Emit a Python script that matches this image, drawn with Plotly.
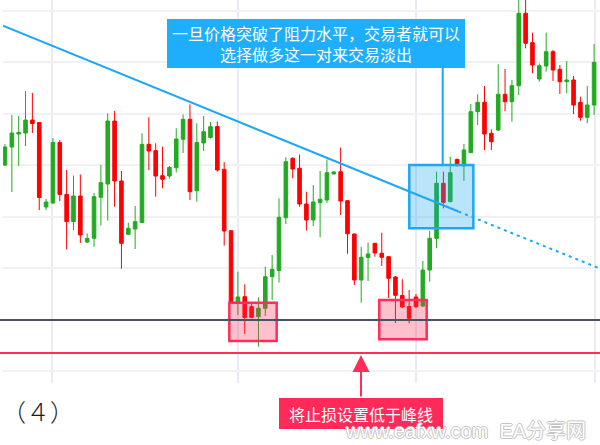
import plotly.graph_objects as go

# ---- data (price units: arbitrary) ----
opens = [218, 236, 249, 250, 263, 260.5, 176, 180, 240.5, 188.5, 161.5, 187, 141, 144.7, 185.7, 199, 262, 202, 148.7, 154,
         160.5, 238.7, 232.3, 207.3, 207, 215.3, 243.7, 263.7, 192.3, 240, 245.5, 256.5, 213.7, 152.3, 79.5, 86.3, 76.3, 66.3, 74.7, 106.3,
         112.5, 165.3, 224.7, 214.7, 179, 163, 180.3, 183, 209, 211.3, 182.3, 149, 103, 125.5, 139.7, 129.7, 126.3, 106, 87.5, 76.5,
         86, 77, 113, 144.7, 199.7, 181.3, 223.5, 217, 230.3, 271.3, 280.7, 249.7, 253, 288.7, 281.3, 297.3, 369.7, 340.3, 304, 317,
         331.3, 313.7, 301.3, 303, 280.7, 265.7, 278]
highs = [239, 268, 267, 292, 290, 261, 184, 245, 243, 213, 207.5, 208.5, 149.5, 190, 218, 269.7, 272, 212, 160.3, 177,
         249.7, 265.7, 239.7, 236.3, 217, 254.7, 268.5, 278.7, 259.7, 267, 261, 261.5, 221, 152.5, 111.3, 98.7, 80.3, 85.7, 116.3, 128,
         184.7, 225.7, 225.7, 228.5, 191.3, 198, 212, 223.7, 212, 235.5, 182.5, 149.3, 136.3, 140.3, 140, 150.3, 126.5, 107, 103.7, 93,
         89, 122, 152, 211.3, 211.3, 226.3, 224.7, 239, 279, 288.7, 297, 253.7, 318.7, 314, 303, 385, 384, 350.3, 319.5, 350.3,
         333, 318, 322, 307, 286.3, 297, 339]
lows = [217, 191, 217, 237, 250, 173, 173, 179.5, 182, 133.5, 153, 140, 140, 136.3, 157.5, 162.5, 176.3, 114.3, 148.5, 134,
        160, 213, 186.3, 194.7, 204.3, 210.5, 230, 183, 181.3, 232, 244.5, 211.3, 137.3, 79, 68, 49, 64.7, 36.3, 67, 83,
        100.5, 159, 204.7, 176.3, 152.5, 157, 145.7, 180, 209, 168, 129.3, 98, 80.3, 102, 126.3, 117, 85, 60, 75, 59.7,
        75, 76, 101.3, 134.7, 174.7, 181, 216.3, 202, 230, 258, 233, 233, 252, 272, 261.3, 288, 334.7, 309.7, 301.3, 311.3,
        302, 289, 289.7, 269, 262.3, 259.7, 268]
closes = [236, 250, 250.5, 263, 259.5, 185.5, 181, 240.5, 188.5, 161.5, 187, 148, 144.5, 186.3, 200.3, 262, 202, 139.7, 154.7, 161.3,
          238.7, 232, 207, 203.7, 215.5, 244, 263.7, 191.3, 240.5, 251.3, 256.3, 213, 152, 79.7, 86, 65.5, 65.7, 74.7, 106.3, 113.7,
          165.7, 221.3, 214, 179, 163, 181, 183.7, 210.3, 211, 182, 149.3, 103, 125.7, 129, 130, 125.7, 104.7, 87.7, 76, 64.7,
          76.3, 113, 144.7, 199.7, 180.7, 210.3, 218, 233, 271.3, 280.7, 249, 241.3, 288.7, 281.3, 297.3, 369.7, 339.7, 318, 317.3, 331.3,
          313, 301.3, 303, 278, 265.7, 278, 320.7]
bars = list(range(len(opens)))

x_grid_ticks = [6.9, 34.0, 60.0, 86.13]
y_grid_ticks = [12, 63.5, 115, 166.5, 218, 269.5, 321, 372.5]

trend_x = [-0.3, 66.2]
trend_y = [357.4, 171.5]
trend_ext_x = [66.2, 87.0]
trend_ext_y = [171.5, 114.0]
support_level = 63
stop_level = 30
low_zone1 = dict(x=[32.75, 39.66], y=[42, 80.3])
low_zone2 = dict(x=[54.64, 61.56], y=[43.7, 83])
break_zone = dict(x=[59.02, 68.37], y=[154.7, 218])
callout_bar = 63.9

callout_text = "一旦价格突破了阻力水平，交易者就可以<br>选择做多这一对来交易淡出"
stop_text = "将止损设置低于峰线"
panel_label = "（４）"
watermark = "www.eafxw.com  EA分享网"

# ---- figure ----
W, H = 600, 445
ML, MR, MT, MB = 3, 0, 0, 62
PW, PH = W - ML - MR, H - MT - MB


def px(xp):
    return (xp - ML) / PW


def py(yp):
    return (H - MB - yp) / PH


GREEN = "#22aa22"
RED = "#ff0000"
BLUE = "#1ea7f5"
PINK = "#ff2d5a"
CJK = "Noto Sans CJK SC, Noto Sans, sans-serif"

fig = go.Figure(go.Candlestick(
    x=bars, open=opens, high=highs, low=lows, close=closes,
    increasing=dict(line=dict(color=GREEN, width=1), fillcolor=GREEN),
    decreasing=dict(line=dict(color=RED, width=1), fillcolor=RED),
    whiskerwidth=0, showlegend=False, hoverinfo="skip",
))

shapes = []
for z in (low_zone1, low_zone2):
    shapes.append(dict(type="rect", xref="x", yref="y", x0=z["x"][0], x1=z["x"][1], y0=z["y"][0], y1=z["y"][1],
                       fillcolor="rgba(255,45,90,0.3)", line=dict(color=PINK, width=2.5), layer="above"))
shapes.append(dict(type="rect", xref="x", yref="y", x0=break_zone["x"][0], x1=break_zone["x"][1],
                   y0=break_zone["y"][0], y1=break_zone["y"][1],
                   fillcolor="rgba(30,167,240,0.31)", line=dict(color=BLUE, width=2.5), layer="above"))
shapes.append(dict(type="line", xref="x", yref="y", x0=trend_x[0], x1=trend_x[1], y0=trend_y[0], y1=trend_y[1],
                   line=dict(color=BLUE, width=2), layer="above"))
shapes.append(dict(type="line", xref="x", yref="y", x0=trend_ext_x[0], x1=trend_ext_x[1], y0=trend_ext_y[0], y1=trend_ext_y[1],
                   line=dict(color=BLUE, width=2, dash="3px,4px"), layer="above"))
shapes.append(dict(type="line", xref="x", yref="y", x0=callout_bar, x1=callout_bar, y0=break_zone["y"][1], y1=py(67.7) * PH,
                   line=dict(color=BLUE, width=2), layer="above"))
shapes.append(dict(type="line", xref="paper", yref="y", x0=-0.01, x1=1.01, y0=support_level, y1=support_level,
                   line=dict(color="#4a5363", width=2), layer="above"))
shapes.append(dict(type="line", xref="paper", yref="y", x0=-0.01, x1=1.01, y0=stop_level, y1=stop_level,
                   line=dict(color=PINK, width=2), layer="above"))

annotations = [
    dict(text=callout_text, xref="paper", yref="paper", x=px(315.8), y=py(43), xanchor="center", yanchor="middle",
         showarrow=False, bgcolor="#1eaefc", borderwidth=0, borderpad=0, width=298, height=49, align="center",
         font=dict(family=CJK, size=16, color="white")),
    dict(text=stop_text, xref="paper", yref="paper", x=px(360.85), y=py(413.8), xanchor="center", yanchor="middle",
         showarrow=False, bgcolor="#ff2a58", borderwidth=0, borderpad=0, width=164, height=31, align="center",
         font=dict(family=CJK, size=16, color="white")),
    dict(text="", xref="x", yref="y", x=51.97, y=stop_level - 2, showarrow=True, ax=0, ay=43,
         arrowhead=2, arrowsize=1.7, arrowwidth=2, arrowcolor=PINK, standoff=0),
    dict(text=panel_label, xref="paper", yref="paper", x=px(0), y=py(411), xanchor="left", yanchor="middle",
         showarrow=False, font=dict(family=CJK, size=24, color="#1a1a1a", weight=300)),
    dict(text=watermark, xref="paper", yref="paper", x=px(465.5), y=py(431), xanchor="center", yanchor="middle",
         showarrow=False,
         font=dict(family="Liberation Sans, Noto Sans CJK SC, sans-serif", size=20, color="white",
                   shadow="1px 0 #c4c4c4, -1px 0 #c4c4c4, 0 1px #c4c4c4, 0 -1px #c4c4c4")),
]

fig.update_layout(
    width=W, height=H, margin=dict(l=ML, r=MR, t=MT, b=MB, pad=0),
    paper_bgcolor="white", plot_bgcolor="white", boxgap=0.25,
    shapes=shapes, annotations=annotations, showlegend=False,
    xaxis=dict(range=[-0.29, 86.86], tickvals=x_grid_ticks, showticklabels=False, ticks="",
               showgrid=True, gridcolor="#e8eaf6", gridwidth=1.5, zeroline=False, showline=False,
               rangeslider=dict(visible=False), fixedrange=True),
    yaxis=dict(range=[0, PH], tickvals=y_grid_ticks, showticklabels=False, ticks="",
               showgrid=True, gridcolor="#f1f1f3", gridwidth=2, zeroline=False, showline=False, fixedrange=True),
)

fig.write_html("out.html", config={"displayModeBar": False},
               post_script="document.body.style.margin='0';document.body.style.overflow='hidden';")
